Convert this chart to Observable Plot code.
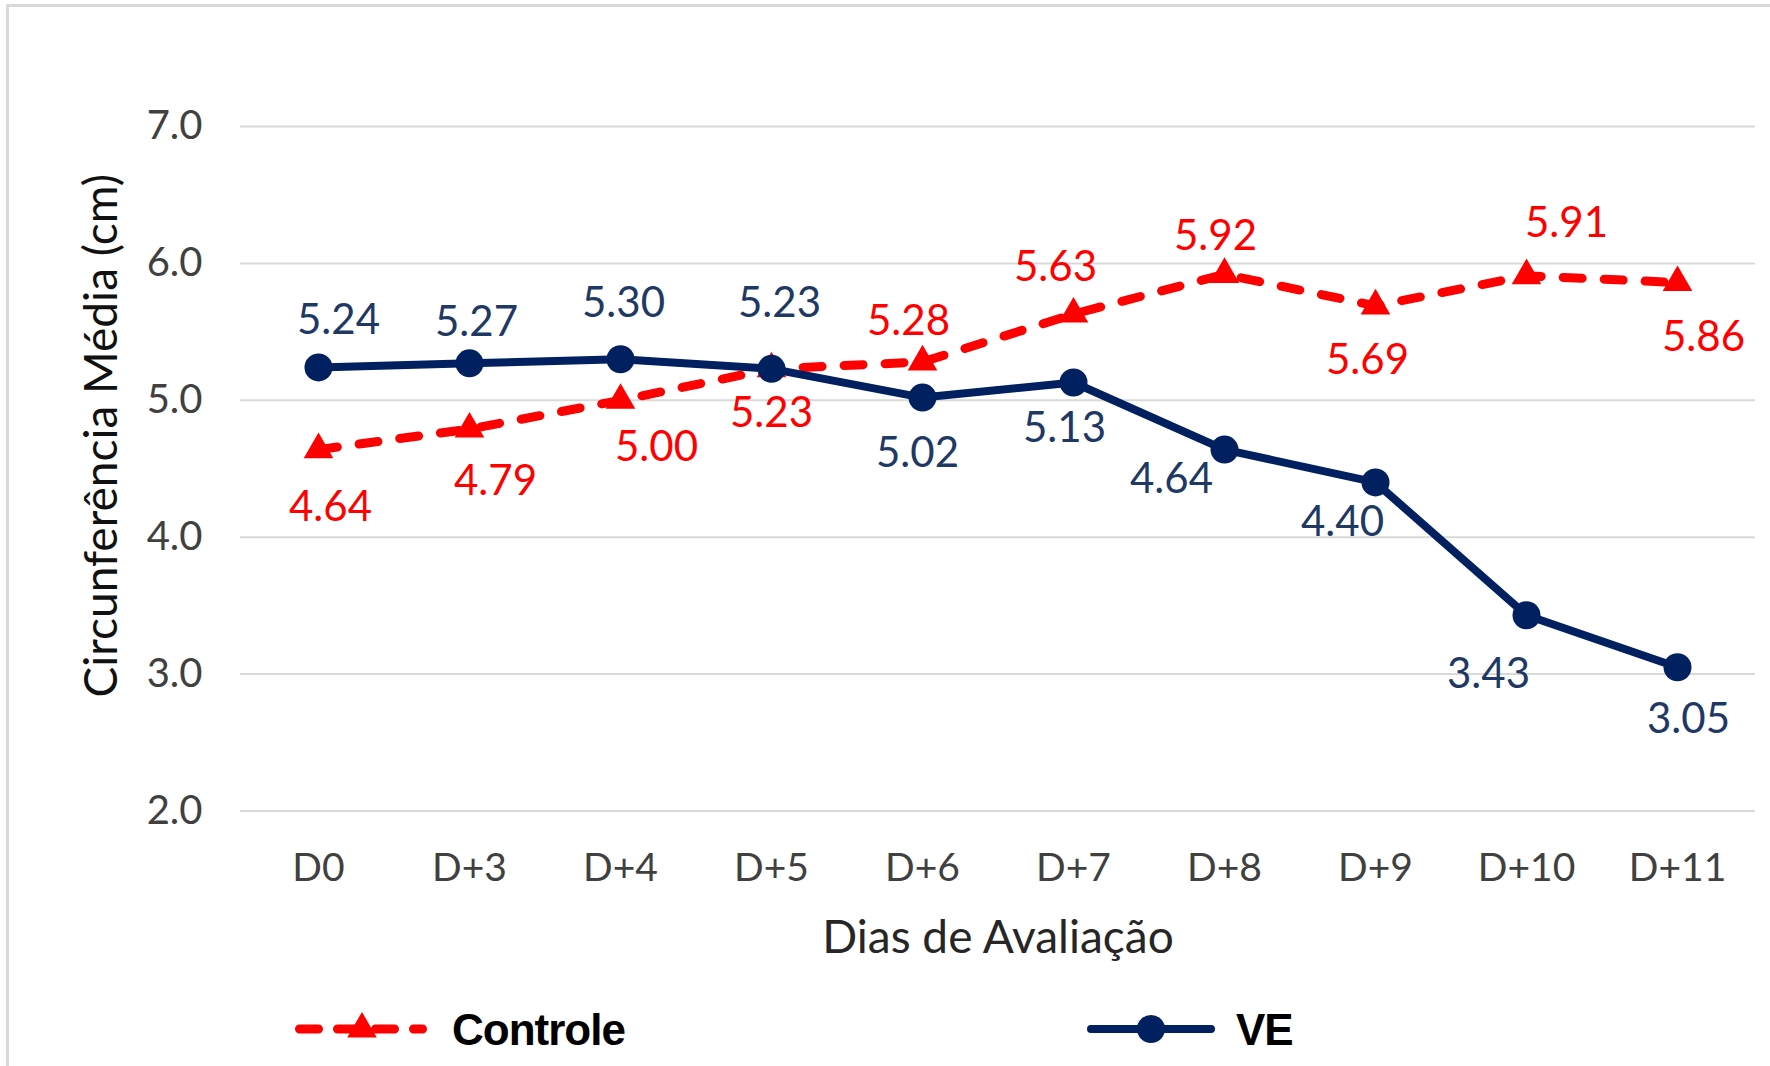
<!DOCTYPE html>
<html>
<head>
<meta charset="utf-8">
<script src="https://cdn.jsdelivr.net/npm/d3@7"></script>
<script src="https://cdn.jsdelivr.net/npm/@observablehq/plot@0.6"></script>
<style>
  html, body { margin: 0; padding: 0; background: #fff; }
  body { width: 1770px; height: 1066px; position: relative; overflow: hidden; font-family: Lato, "Open Sans", sans-serif; }
  #frame { position: absolute; left: 6px; top: 4px; width: 1800px; height: 1200px; border: 3px solid #d9d9d9; box-sizing: border-box; }
  #chart { position: absolute; left: 0; top: 0; }
  #legend { position: absolute; left: 0; top: 990px; }
</style>
</head>
<body>
<div id="frame"></div>
<div id="chart"></div>
<svg id="legend" width="1770" height="76"></svg>
<script>
// ---- data ----
const days = ["D0", "D+3", "D+4", "D+5", "D+6", "D+7", "D+8", "D+9", "D+10", "D+11"];
const controle = [4.64, 4.79, 5.00, 5.23, 5.28, 5.63, 5.92, 5.69, 5.91, 5.86];
const ve = [5.24, 5.27, 5.30, 5.23, 5.02, 5.13, 4.64, 4.40, 3.43, 3.05];
const yTicks = [2, 3, 4, 5, 6, 7];
const seriesNames = ["Controle", "VE"];
const xTitle = "Dias de Avaliação";
const yTitle = "Circunferência Média (cm)";

// ---- layout (label placement offsets, px) ----
const controleLabelOffset = [[12,58],[26,52],[36,47],[0,45],[-14,-40],[-18,-47],[-9,-38],[-8,55],[40,-52],[26,55]];
const veLabelOffset = [[20,-47],[7,-41],[3,-56],[8,-65],[-5,56],[-9,46],[-53,30],[-33,40],[-38,59],[11,52]];

const RED = "#ff0000";
const NAVY = "#002060";
const NAVY_LABEL = "#203864";
const GRAY_TEXT = "#404040";
const DASH = "19,22";

const rowsC = days.map((d, i) => ({day: d, value: controle[i], dx: controleLabelOffset[i][0], dy: controleLabelOffset[i][1]}));
const rowsV = days.map((d, i) => ({day: d, value: ve[i], dx: veLabelOffset[i][0], dy: veLabelOffset[i][1]}));

const labelMarks = (rows, color) => rows.map(r =>
  Plot.text([r], {x: "day", y: "value", text: d => d.value.toFixed(2), dx: r.dx, dy: r.dy,
    fill: color, fontSize: 42, fontFamily: "Lato"}));

const chart = Plot.plot({
  width: 1770,
  height: 985,
  marginLeft: 240,
  marginRight: 15,
  marginTop: 126,
  marginBottom: 174.5,
  style: {fontFamily: "Lato", fontSize: "38px", background: "transparent", overflow: "visible"},
  x: {type: "point", domain: days, padding: 0.5, label: null},
  y: {domain: [2, 7], label: null},
  marks: [
    Plot.gridY(yTicks, {stroke: "#d9d9d9", strokeOpacity: 1, strokeWidth: 2}),
    Plot.axisY(yTicks, {tickSize: 0, tickPadding: 38, tickFormat: d => d.toFixed(1), fontSize: 40, color: GRAY_TEXT, label: null}),
    Plot.axisX({tickSize: 0, tickPadding: 42, fontSize: 39, color: GRAY_TEXT, label: null}),
    Plot.text([xTitle], {frameAnchor: "bottom", dy: 142, fontSize: 46, fill: "#262626", fontFamily: "Lato"}),
    Plot.text([yTitle], {frameAnchor: "left", textAnchor: "middle", rotate: -90, dx: -138, dy: -33, fontSize: 46, fill: "#111", fontFamily: "Lato"}),
    Plot.line(rowsC, {x: "day", y: "value", stroke: RED, strokeWidth: 9, strokeDasharray: DASH, strokeLinecap: "round", strokeLinejoin: "round"}),
    Plot.dot(rowsC, {x: "day", y: "value", symbol: "triangle", r: 11, fill: RED, stroke: "none"}),
    Plot.line(rowsV, {x: "day", y: "value", stroke: NAVY, strokeWidth: 8, strokeLinejoin: "round"}),
    Plot.dot(rowsV, {x: "day", y: "value", symbol: "circle", r: 14, fill: NAVY, stroke: "none"}),
    ...labelMarks(rowsC, RED),
    ...labelMarks(rowsV, NAVY_LABEL)
  ]
});
document.getElementById("chart").appendChild(chart);

// ---- legend ----
const lg = d3.select("#legend");
const ly = 39;
// Controle
lg.append("line").attr("x1", 299.5).attr("x2", 422.5).attr("y1", ly).attr("y2", ly)
  .attr("stroke", RED).attr("stroke-width", 9).attr("stroke-dasharray", "19,19").attr("stroke-linecap", "round");
lg.append("path").attr("d", d3.symbol(d3.symbolTriangle, 11 * 11 * Math.PI)()).attr("transform", `translate(362,${ly})`).attr("fill", RED);
lg.append("text").attr("x", 452).attr("y", ly + 16).text(seriesNames[0])
  .attr("font-family", "'Liberation Sans', Arial, sans-serif").attr("font-weight", "bold").attr("font-size", 44).attr("letter-spacing", -1).attr("fill", "#000");
// VE
lg.append("line").attr("x1", 1091).attr("x2", 1211).attr("y1", ly).attr("y2", ly)
  .attr("stroke", NAVY).attr("stroke-width", 8).attr("stroke-linecap", "round");
lg.append("circle").attr("cx", 1151).attr("cy", ly).attr("r", 14).attr("fill", NAVY);
lg.append("text").attr("x", 1236).attr("y", ly + 16).text(seriesNames[1])
  .attr("font-family", "'Liberation Sans', Arial, sans-serif").attr("font-weight", "bold").attr("font-size", 44).attr("letter-spacing", -1).attr("fill", "#000");
</script>
</body>
</html>
